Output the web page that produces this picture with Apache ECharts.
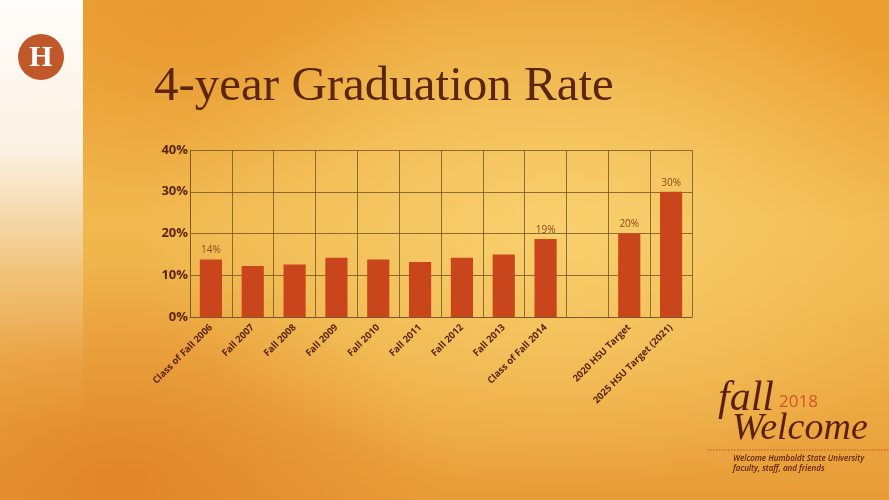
<!DOCTYPE html>
<html><head><meta charset="utf-8">
<script src="https://cdn.jsdelivr.net/npm/echarts@6/dist/echarts.min.js"></script>
<style>
html,body{margin:0;padding:0;width:889px;height:500px;overflow:hidden}
#bg{position:absolute;left:0;top:0;width:889px;height:500px;
background:
 radial-gradient(ellipse 420px 260px at 560px 230px, rgba(250,212,115,0.85), rgba(250,212,115,0) 100%),
 radial-gradient(ellipse 320px 220px at 120px 480px, rgba(222,125,35,0.75), rgba(222,125,35,0) 100%),
 radial-gradient(ellipse 260px 180px at 180px 20px, rgba(232,145,40,0.6), rgba(232,145,40,0) 100%),
 radial-gradient(ellipse 260px 200px at 880px 40px, rgba(235,150,40,0.5), rgba(235,150,40,0) 100%),
 linear-gradient(180deg,#eba53a 0%,#f0b84e 45%,#edac44 75%,#e89c38 100%);}
#strip{position:absolute;left:0;top:0;width:83px;height:500px;
background:linear-gradient(180deg,rgba(255,253,250,1) 0%,rgba(252,243,232,0.97) 30%,rgba(240,200,140,0.7) 55%,rgba(235,170,90,0.3) 72%,rgba(235,160,70,0) 85%);}
#chart{position:absolute;left:0;top:0;width:889px;height:500px}
</style></head>
<body><div id="bg"></div><div id="strip"></div><div id="chart"></div>
<script>
const categories = ['Class of Fall 2006','Fall 2007','Fall 2008','Fall 2009','Fall 2010','Fall 2011','Fall 2012','Fall 2013','Class of Fall 2014','','2020 HSU Target','2025 HSU Target (2021)'];
const rates = [13.8,12.2,12.6,14.2,13.8,13.2,14.2,15.0,18.7,null,20,30];
const barLabels = ['14%','','','','','','','','19%','','20%','30%'];
const yTicks = [0,10,20,30,40];

const chart = echarts.init(document.getElementById('chart'), null, {renderer:'canvas'});
const brown = '#5a2410';
chart.setOption({
  backgroundColor:'transparent',
  animation:false,
  title:{text:'4-year Graduation Rate',left:149,top:58,
    textStyle:{fontFamily:'Liberation Serif',fontSize:49,fontWeight:'normal',color:'#5b2610'}},
  grid:{left:190,right:197,top:150,bottom:183},
  xAxis:{type:'category',data:categories,boundaryGap:true,
    axisLine:{show:true,lineStyle:{color:'#7a5a28',width:1}},
    axisTick:{show:false},
    splitLine:{show:true,lineStyle:{color:'#7a5a28',width:1,opacity:0.85}},
    axisLabel:{interval:0,rotate:45,margin:9,color:brown,fontFamily:'Open Sans',fontSize:9.5,fontWeight:700}},
  yAxis:{type:'value',min:yTicks[0],max:yTicks[yTicks.length-1],interval:10,
    axisLine:{show:true,lineStyle:{color:'#7a5a28'}},
    axisTick:{show:false},
    splitLine:{show:true,lineStyle:{color:'#7a5a28',width:1,opacity:0.85}},
    axisLabel:{formatter:v=>v+'%',color:brown,fontFamily:'Open Sans',fontSize:13,fontWeight:700,margin:2}},
  series:[{type:'bar',barWidth:'53%',
    data:rates.map((v,i)=>({value:v,label:{show:barLabels[i]!==''}})),
    itemStyle:{color:'#c9461c'},
    label:{position:'top',distance:4,formatter:p=>barLabels[p.dataIndex],
      color:'#8a4a1c',fontFamily:'Open Sans',fontSize:10}}],
  graphic:[
    {type:'circle',shape:{cx:41,cy:57,r:23},style:{fill:'#c0582a'}},
    {type:'text',x:41,y:58,style:{text:'H',fill:'#ffffff',font:'bold 30px "Liberation Serif"',align:'center',verticalAlign:'middle'}},
    {type:'text',x:718,y:378,style:{text:'fall',fill:'#5a1f0f',font:'italic 42px "Liberation Serif"'}},
    {type:'text',x:779,y:394,style:{text:'2018',fill:'#d0532a',font:'17px "Open Sans"'}},
    {type:'text',x:732,y:410,style:{text:'Welcome',fill:'#5a1f0f',font:'italic 38px "Liberation Serif"'}},
    {type:'line',shape:{x1:707,y1:450,x2:889,y2:450},style:{stroke:'#c4502a',lineWidth:1,lineDash:[1.5,1.5]}},
    {type:'text',x:733,y:455,style:{text:'Welcome Humboldt State University',fill:'#5a1f0f',font:'italic 600 8px "Open Sans"'}},
    {type:'text',x:733,y:465,style:{text:'faculty, staff, and friends',fill:'#5a1f0f',font:'italic 600 8px "Open Sans"'}}
  ]
});
</script></body></html>
